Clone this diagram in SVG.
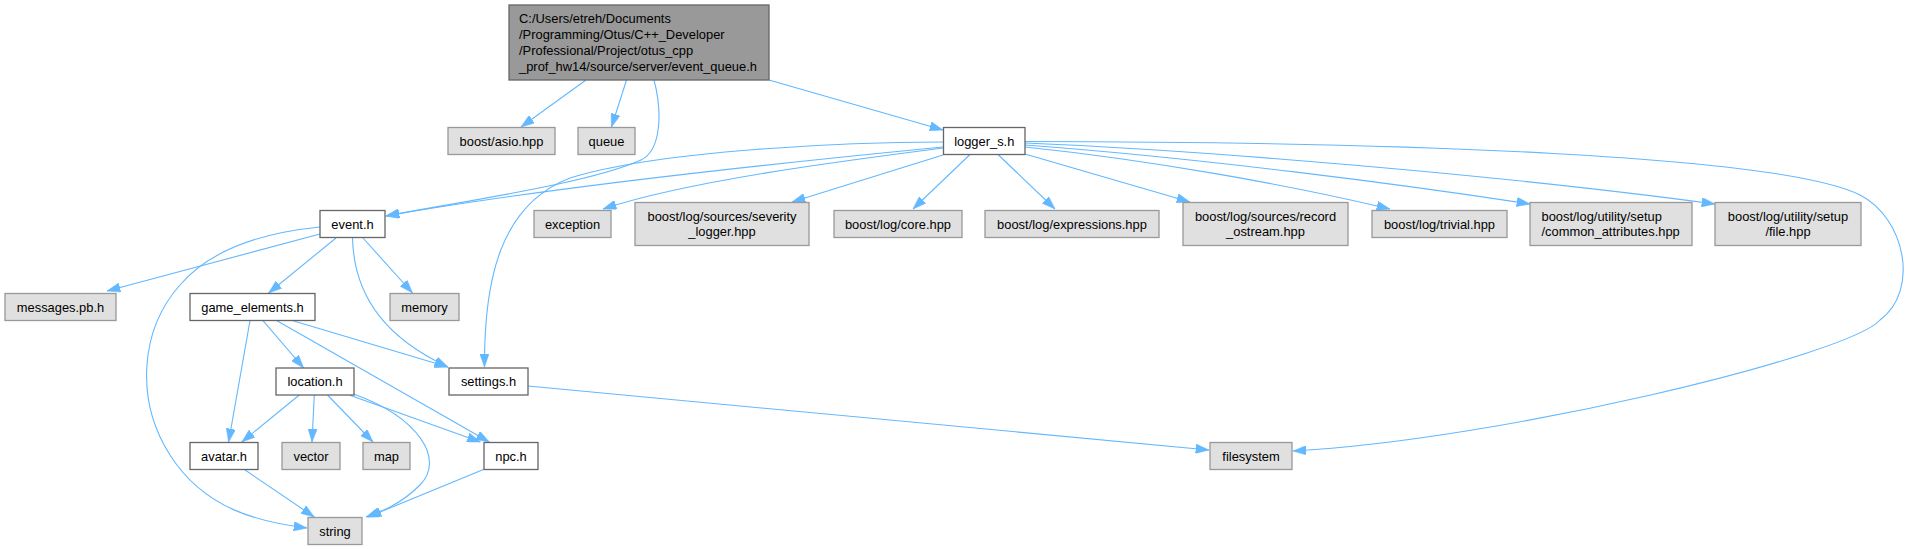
<svg xmlns="http://www.w3.org/2000/svg" width="1912" height="549" viewBox="0 0 1912 549">
<style>
text{font-family:"Liberation Sans",Arial,sans-serif;font-size:12.9px;fill:#000}
.c{text-anchor:middle}
.l{text-anchor:start}
.ext rect{fill:#e0e0e0;stroke:#999999;stroke-width:1.3}
.int rect{fill:#ffffff;stroke:#666666;stroke-width:1.3}
.main rect{fill:#999999;stroke:#666666;stroke-width:1.3}
.e path{fill:none;stroke:#63b8ff;stroke-width:1.1;marker-end:url(#ah)}
</style>
<defs>
<marker id="ah" viewBox="0 0 13.3 9.4" refX="13.3" refY="4.7" markerWidth="13.3" markerHeight="9.4" markerUnits="userSpaceOnUse" orient="auto">
<path d="M0,0 L13.3,4.7 L0,9.4 z" fill="#63b8ff" stroke="#63b8ff" stroke-width="0.5"/>
</marker>
</defs>
<rect width="1912" height="549" fill="#ffffff"/>
<g id="edges" class="e">
<path d="M586,80 L521,127"/>
<path d="M626.5,80 L611.5,127"/>
<path d="M769,80 L943,130"/>
<path d="M654,80 C662,110 662,150 641,160 C590,183 470,200 386,216"/>
<path d="M943,147 C830,158 560,185 386,216"/>
<path d="M943,142 C850,142 660,150 570,178 C500,205 484,280 484.5,367"/>
<path d="M943,148 C850,160 690,180 603,209"/>
<path d="M943,155 L792,202"/>
<path d="M970,154.5 L913,209"/>
<path d="M998,154.5 L1055,209"/>
<path d="M1025,154 L1190,202"/>
<path d="M1025,147 C1150,160 1290,185 1390,209"/>
<path d="M1025,145 C1200,158 1400,184 1530,204"/>
<path d="M1025,143 C1200,150 1500,175 1715,204"/>
<path d="M1025,141.5 C1400,142 1780,155 1860,195 C1905,218 1920,290 1880,320 C1850,355 1500,440 1293,451"/>
<path d="M528,386 L1209,450"/>
<path d="M320,234 L107,291"/>
<path d="M320,227 C260,233 210,250 180,285 C140,330 135,400 170,455 C205,510 260,522 307,528"/>
<path d="M336,238 L268.6,293"/>
<path d="M363,238 L412.5,293"/>
<path d="M352.5,238 C354,300 390,340 448,367"/>
<path d="M293,320.7 L448,367"/>
<path d="M250,320.7 L228.6,442"/>
<path d="M263,320.7 L303.6,368"/>
<path d="M277,320.7 L489.3,442"/>
<path d="M299.3,395 L241.8,442"/>
<path d="M314.3,395 L312,442"/>
<path d="M327.5,395 L373,442"/>
<path d="M349.3,395 L480.4,442"/>
<path d="M353.6,394 C420,418 445,460 420,485 C400,505 380,512 366,517"/>
<path d="M244,469.3 L314.3,517"/>
<path d="M484,469.3 L368,517"/>
</g>
<g id="n_main" class="main"><rect x="509" y="5" width="260" height="75"/>
<text class="l" x="519" y="23">C:/Users/etreh/Documents</text>
<text class="l" x="519" y="39">/Programming/Otus/C++_Developer</text>
<text class="l" x="519" y="55">/Professional/Project/otus_cpp</text>
<text class="l" x="519" y="71">_prof_hw14/source/server/event_queue.h</text></g>
<g id="n_asio" class="ext"><rect x="448" y="127.5" width="107" height="27"/><text class="c" x="501.5" y="145.5">boost/asio.hpp</text></g>
<g id="n_queue" class="ext"><rect x="578" y="127.5" width="57" height="27"/><text class="c" x="606.5" y="145.5">queue</text></g>
<g id="n_logger" class="int"><rect x="943.5" y="127.5" width="81.5" height="27"/><text class="c" x="984.25" y="145.5">logger_s.h</text></g>
<g id="n_event" class="int"><rect x="320" y="210.5" width="65" height="27"/><text class="c" x="352.5" y="228.5">event.h</text></g>
<g id="n_exception" class="ext"><rect x="534" y="210.5" width="77" height="27"/><text class="c" x="572.5" y="228.5">exception</text></g>
<g id="n_severity" class="ext"><rect x="635" y="202.5" width="174" height="43"/><text class="c" x="722" y="220.7">boost/log/sources/severity</text><text class="c" x="722" y="236.3">_logger.hpp</text></g>
<g id="n_core" class="ext"><rect x="834" y="210.5" width="128" height="27"/><text class="c" x="898" y="228.5">boost/log/core.hpp</text></g>
<g id="n_expr" class="ext"><rect x="985" y="210.5" width="174" height="27"/><text class="c" x="1072" y="228.5">boost/log/expressions.hpp</text></g>
<g id="n_record" class="ext"><rect x="1183" y="202.5" width="165" height="43"/><text class="c" x="1265.5" y="220.7">boost/log/sources/record</text><text class="c" x="1265.5" y="236.3">_ostream.hpp</text></g>
<g id="n_trivial" class="ext"><rect x="1372" y="210.5" width="135" height="27"/><text class="c" x="1439.5" y="228.5">boost/log/trivial.hpp</text></g>
<g id="n_common" class="ext"><rect x="1530" y="202.5" width="162" height="43"/><text class="l" x="1541.5" y="220.7">boost/log/utility/setup</text><text class="l" x="1541.5" y="236.3">/common_attributes.hpp</text></g>
<g id="n_file" class="ext"><rect x="1715" y="202.5" width="146" height="43"/><text class="c" x="1788" y="220.7">boost/log/utility/setup</text><text class="c" x="1788" y="236.3">/file.hpp</text></g>
<g id="n_messages" class="ext"><rect x="5" y="293.5" width="111" height="27"/><text class="c" x="60.5" y="311.5">messages.pb.h</text></g>
<g id="n_game" class="int"><rect x="190" y="293.5" width="125" height="27"/><text class="c" x="252.5" y="311.5">game_elements.h</text></g>
<g id="n_memory" class="ext"><rect x="390" y="293.5" width="69" height="27"/><text class="c" x="424.5" y="311.5">memory</text></g>
<g id="n_location" class="int"><rect x="276" y="368" width="78" height="27"/><text class="c" x="315" y="386">location.h</text></g>
<g id="n_settings" class="int"><rect x="449" y="368" width="79" height="27"/><text class="c" x="488.5" y="386">settings.h</text></g>
<g id="n_avatar" class="int"><rect x="190" y="442.5" width="68" height="27"/><text class="c" x="224" y="460.5">avatar.h</text></g>
<g id="n_vector" class="ext"><rect x="282" y="442.5" width="58" height="27"/><text class="c" x="311" y="460.5">vector</text></g>
<g id="n_map" class="ext"><rect x="363" y="442.5" width="47" height="27"/><text class="c" x="386.5" y="460.5">map</text></g>
<g id="n_npc" class="int"><rect x="484" y="442.5" width="54" height="27"/><text class="c" x="511" y="460.5">npc.h</text></g>
<g id="n_filesystem" class="ext"><rect x="1210" y="442.5" width="82" height="27"/><text class="c" x="1251" y="460.5">filesystem</text></g>
<g id="n_string" class="ext"><rect x="308" y="517.5" width="54" height="27"/><text class="c" x="335" y="535.5">string</text></g>
</svg>
